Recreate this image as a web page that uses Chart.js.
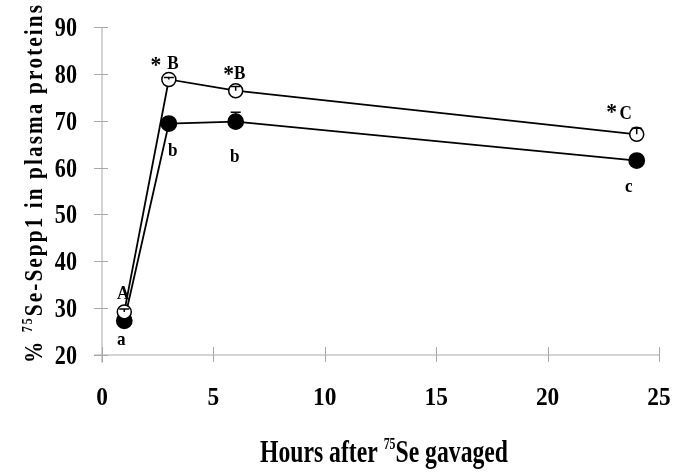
<!DOCTYPE html>
<html>
<head>
<meta charset="utf-8">
<script src="https://cdn.jsdelivr.net/npm/chart.js@4"></script>
<style>
  html, body { margin: 0; padding: 0; background: #fff; }
  #wrap { width: 678px; height: 473px; }
</style>
</head>
<body>
<div id="wrap"><canvas id="chart" width="678" height="473"></canvas></div>
<script>
// hours after gavage
const hours = [1, 3, 6, 24];
// open circles
const open_mean = [29.2, 78.8, 76.4, 67.1];
const open_err = [0.6, 0.4, 0.9, 1.3];
const open_letters = ["A", "B", "B", "C"];
const open_star = [false, true, true, true];
// filled circles
const filled_mean = [27.3, 69.4, 69.8, 61.5];
const filled_err = [0.4, 0.4, 2.0, 0.4];
const filled_letters = ["a", "b", "b", "c"];
// axes
const x_ticks = [0, 5, 10, 15, 20, 25];
const y_ticks = [20, 30, 40, 50, 60, 70, 80, 90];

const serif = "'Liberation Serif', 'Times New Roman', serif";
const axis_color = "#a8a8a8";

function to_points(xs, ys) {
  return xs.map(function(x, i) { return {x: x, y: ys[i]}; });
}

// letter offsets in px, relative to each marker
const open_off = [[-1, -18], [4, -15], [4, -17], [-11, -20]];
const star_off = [null, [-13, -18], [-7, -20], [-25, -26]];
const filled_off = [[-3, 19], [4, 28], [-1, 35], [-8, 27]];

// text in the figure is a horizontally squeezed Times bold
function squeezed(ctx, str, x, y, size, sx, align) {
  ctx.save();
  ctx.font = "bold " + size + "px " + serif;
  const w = ctx.measureText(str).width * sx;
  let left = x;
  if (align === "center") left = x - w / 2;
  if (align === "right") left = x - w;
  ctx.translate(left, y);
  ctx.scale(sx, 1);
  ctx.textAlign = "left";
  ctx.fillText(str, 0, 0);
  ctx.restore();
}

// title with a superscript: squeezed glyphs, spread out to a target length
function title(ctx, parts, cx, cy, rot, size, sup_size, sx, target) {
  ctx.save();
  ctx.translate(cx, cy);
  ctx.rotate(rot);
  ctx.textAlign = "left";
  ctx.textBaseline = "alphabetic";
  let glyphs = [];
  parts.forEach(function(p) {
    const fs = p.sup ? sup_size : size;
    ctx.font = "bold " + fs + "px " + serif;
    Array.from(p.t).forEach(function(c) {
      glyphs.push({c: c, fs: fs, sup: p.sup, w: ctx.measureText(c).width * sx});
    });
  });
  let w = glyphs.reduce(function(a, g) { return a + g.w; }, 0);
  const gap = Math.max(0, (target - w) / (glyphs.length - 1));
  let x = -target / 2;
  glyphs.forEach(function(g) {
    ctx.font = "bold " + g.fs + "px " + serif;
    ctx.save();
    ctx.translate(x, g.sup ? -size * 0.42 : 0);
    ctx.scale(sx, 1);
    ctx.fillText(g.c, 0, 0);
    ctx.restore();
    x += g.w + gap;
  });
  ctx.restore();
}

const decorations = {
  id: "decorations",
  afterDraw(chart) {
    const ctx = chart.ctx;
    const xs = chart.scales.x;
    const ys = chart.scales.y;
    const area = chart.chartArea;
    ctx.save();

    // axes with crossing ticks
    ctx.strokeStyle = axis_color;
    ctx.lineWidth = 1;
    ctx.beginPath();
    ctx.moveTo(area.left, area.top);
    ctx.lineTo(area.left, area.bottom + 8);
    ctx.moveTo(area.left - 8, area.bottom);
    ctx.lineTo(area.right, area.bottom);
    y_ticks.forEach(function(v) {
      const py = Math.round(ys.getPixelForValue(v)) + 0.5;
      ctx.moveTo(area.left - 8, py);
      ctx.lineTo(area.left + 6, py);
    });
    x_ticks.forEach(function(v) {
      const px = Math.round(xs.getPixelForValue(v)) + 0.5;
      ctx.moveTo(px, area.bottom - 8);
      ctx.lineTo(px, area.bottom + 7);
    });
    ctx.stroke();

    // tick labels
    ctx.fillStyle = "#000";
    ctx.textBaseline = "middle";
    y_ticks.forEach(function(v) {
      squeezed(ctx, String(v), area.left - 25, ys.getPixelForValue(v) + 2, 27, 0.82, "right");
    });
    x_ticks.forEach(function(v) {
      squeezed(ctx, String(v), xs.getPixelForValue(v), area.bottom + 43, 26, 0.9, "center");
    });

    // error bars (upper only)
    ctx.strokeStyle = "#000";
    ctx.lineWidth = 1.5;
    function err_bars(means, errs) {
      hours.forEach(function(h, i) {
        const px = xs.getPixelForValue(h);
        const p0 = ys.getPixelForValue(means[i]);
        const p1 = ys.getPixelForValue(means[i] + errs[i]);
        ctx.beginPath();
        ctx.moveTo(px, p0);
        ctx.lineTo(px, p1);
        ctx.moveTo(px - 5, p1);
        ctx.lineTo(px + 5, p1);
        ctx.stroke();
      });
    }
    err_bars(open_mean, open_err);
    err_bars(filled_mean, filled_err);

    // significance letters
    ctx.textBaseline = "middle";
    hours.forEach(function(h, i) {
      const px = xs.getPixelForValue(h);
      const po = ys.getPixelForValue(open_mean[i]);
      const pf = ys.getPixelForValue(filled_mean[i]);
      squeezed(ctx, open_letters[i], px + open_off[i][0], po + open_off[i][1], 19, 0.9, "center");
      squeezed(ctx, filled_letters[i], px + filled_off[i][0], pf + filled_off[i][1], 19, 0.9, "center");
      if (open_star[i]) {
        squeezed(ctx, "*", px + star_off[i][0], po + star_off[i][1] + 4, 24, 0.9, "center");
      }
    });

    // axis titles
    title(ctx, [{t: "Hours after "}, {t: "75", sup: true}, {t: "Se gavaged"}],
      384, 462, 0, 32, 16, 0.74, 248);
    title(ctx, [{t: "% "}, {t: "75", sup: true}, {t: "Se-Sepp1 in plasma proteins"}],
      42, 184, -Math.PI / 2, 25, 14, 0.85, 358);

    ctx.restore();
  }
};

new Chart(document.getElementById("chart"), {
  type: "scatter",
  data: {
    datasets: [
      {
        data: to_points(hours, filled_mean),
        showLine: true,
        borderColor: "#000",
        borderWidth: 1.8,
        pointRadius: 7.5,
        pointBackgroundColor: "#000",
        pointBorderColor: "#000",
        order: 2,
      },
      {
        data: to_points(hours, open_mean),
        showLine: true,
        borderColor: "#000",
        borderWidth: 1.8,
        pointRadius: 7,
        pointBorderWidth: 1.5,
        pointBackgroundColor: "#fff",
        pointBorderColor: "#000",
        order: 1,
      },
    ]
  },
  options: {
    responsive: false,
    animation: false,
    events: [],
    layout: { padding: { top: 27, right: 19, left: 0, bottom: 0 } },
    plugins: { legend: { display: false }, tooltip: { enabled: false } },
    scales: {
      x: {
        type: "linear",
        min: 0, max: 25,
        grid: { display: false },
        border: { display: false },
        ticks: { display: false },
        afterFit: function(s) { s.height = 118; },
      },
      y: {
        min: 20, max: 90,
        grid: { display: false },
        border: { display: false },
        ticks: { display: false },
        afterFit: function(s) { s.width = 102; },
      },
    }
  },
  plugins: [decorations]
});
</script>
</body>
</html>
